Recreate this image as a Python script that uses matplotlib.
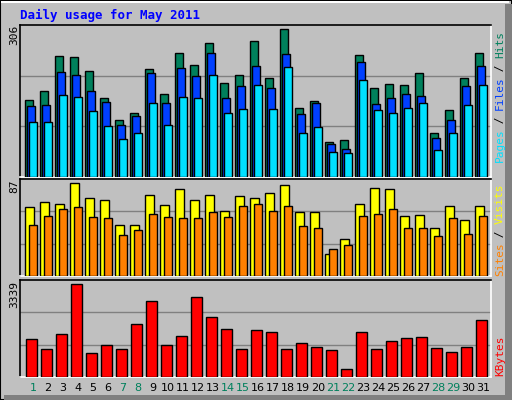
import numpy as np
import matplotlib
matplotlib.use("Agg")
import matplotlib.pyplot as plt
from matplotlib.patches import Rectangle

days = np.arange(1, 32)
hits = [156, 173, 244, 241, 213, 160, 114, 128, 217, 168, 250, 225, 270, 189, 205, 274,
        199, 298, 138, 152, 71, 75, 246, 179, 187, 185, 209, 89, 134, 199, 250]
files = [142, 144, 211, 205, 173, 150, 105, 122, 209, 148, 219, 203, 250, 160, 183, 223,
         179, 248, 126, 148, 67, 57, 231, 146, 160, 168, 164, 79, 114, 183, 223]
pages = [110, 110, 166, 162, 132, 103, 77, 89, 148, 105, 162, 160, 205, 128, 136, 185,
         136, 221, 89, 101, 51, 49, 195, 134, 128, 138, 148, 55, 89, 144, 185]
sites = [62, 66, 65, 83, 70, 68, 46, 46, 73, 64, 78, 68, 73, 58, 72, 70,
         74, 82, 57, 57, 20, 33, 65, 79, 78, 54, 55, 43, 63, 50, 63]
visits = [46, 54, 60, 62, 53, 52, 37, 41, 56, 53, 52, 52, 57, 53, 63, 65,
          58, 63, 45, 43, 24, 28, 54, 56, 60, 43, 43, 36, 52, 38, 54]
kbytes = [1307, 957, 1482, 3198, 817, 1097, 957, 1832, 2602, 1097, 1412, 2742, 2077, 1657, 957, 1622,
          1552, 957, 1167, 1027, 922, 292, 1552, 957, 1237, 1342, 1377, 992, 852, 1027, 1972]
weekend = [1, 7, 8, 14, 15, 21, 22, 28, 29]
max_hits, max_sites, max_kb = 306, 87, 3339

W, H = 512, 400
fig = plt.figure(figsize=(W / 100, H / 100), dpi=100)
fig.patch.set_facecolor("#c0c0c0")
# outer bevel
fig.add_artist(Rectangle((0, 0), 1, 1, transform=fig.transFigure, fill=False, ec="black", lw=1.5))
fig.add_artist(Rectangle((505 / W, 0), 7 / W, 1 - 4 / H, transform=fig.transFigure, fc="#808080", ec="none"))
fig.add_artist(Rectangle((4 / W, 0), 1 - 4 / W, 5 / H, transform=fig.transFigure, fc="#808080", ec="none"))
fig.add_artist(Rectangle((1 / W, 1 - 3 / H), 1 - 4 / W, 2 / H, transform=fig.transFigure, fc="white", ec="none"))


def panel(top, bottom):
    ax = fig.add_axes([20 / W, 1 - bottom / H, 471 / W, (bottom - top) / H])
    ax.set_facecolor("#c0c0c0")
    ax.set_xlim(0, 31.4)
    ax.set_xticks([])
    ax.set_yticks([])
    for s in ["left", "top"]:
        ax.spines[s].set_color("black")
    for s in ["right", "bottom"]:
        ax.spines[s].set_color("white")
    for sp in ax.spines.values():
        sp.set_linewidth(1.2)
    return ax


x0 = days - 1 + 1 / 3
kw = dict(align="edge", edgecolor="black", linewidth=1, zorder=3)

ax1 = panel(25, 177)
ax1.set_ylim(0, max_hits)
for g in [max_hits / 3, 2 * max_hits / 3]:
    ax1.axhline(g, color="#808080", lw=1, zorder=1)
ax1.bar(x0, hits, width=0.53, color="#00805c", **kw)
ax1.bar(x0 + 2 / 15, files, width=0.53, color="#0040ff", **kw)
ax1.bar(x0 + 4 / 15, pages, width=0.53, color="#00e0ff", **kw)

ax2 = panel(179, 276)
ax2.set_ylim(0, max_sites)
for g in [max_sites / 3, 2 * max_sites / 3]:
    ax2.axhline(g, color="#808080", lw=1, zorder=1)
ax2.bar(x0, sites, width=0.6, color="#ffff00", **kw)
ax2.bar(x0 + 4 / 15, visits, width=0.55, color="#ff8000", **kw)

ax3 = panel(280, 377)
ax3.set_ylim(0, max_kb)
for g in [max_kb / 3, 2 * max_kb / 3]:
    ax3.axhline(g, color="#808080", lw=1, zorder=1)
ax3.bar(x0 + 1 / 15, kbytes, width=0.73, color="#ff0000", **kw)

mono = "DejaVu Sans Mono"
fig.text(20 / W, 1 - 15 / H, "Daily usage for May 2011", color="#0000ff", family=mono,
         weight="bold", fontsize=9, va="center")
for top, label in [(25, str(max_hits)), (180, str(max_sites)), (281, str(max_kb))]:
    fig.text(14 / W, 1 - top / H, label, rotation=90, ha="center", va="top", fontsize=8, family=mono)

for d in days:
    fig.text((20 + 15 * (d - 1) + 13) / W, 1 - 388 / H, str(d), ha="center", va="center",
             fontsize=8, color="#00805c" if d in weekend else "black")


def side_label(y_bottom, parts):
    # stacked colored words reading bottom to top
    y = y_bottom
    for txt, col in parts:
        fig.text(500 / W, 1 - y / H, txt, rotation=90, ha="center", va="bottom",
                 fontsize=8, family=mono, color=col)
        y -= len(txt) * 6.5


side_label(162, [("Pages", "#00e0ff"), (" / ", "#000000"), ("Files", "#0040ff"),
                 (" / ", "#000000"), ("Hits", "#00805c")])
side_label(276, [("Sites", "#ff8000"), (" / ", "#000000"), ("Visits", "#ffff00")])
side_label(376, [("KBytes", "#ff0000")])

fig.savefig("out.png", dpi=100, facecolor=fig.get_facecolor())
